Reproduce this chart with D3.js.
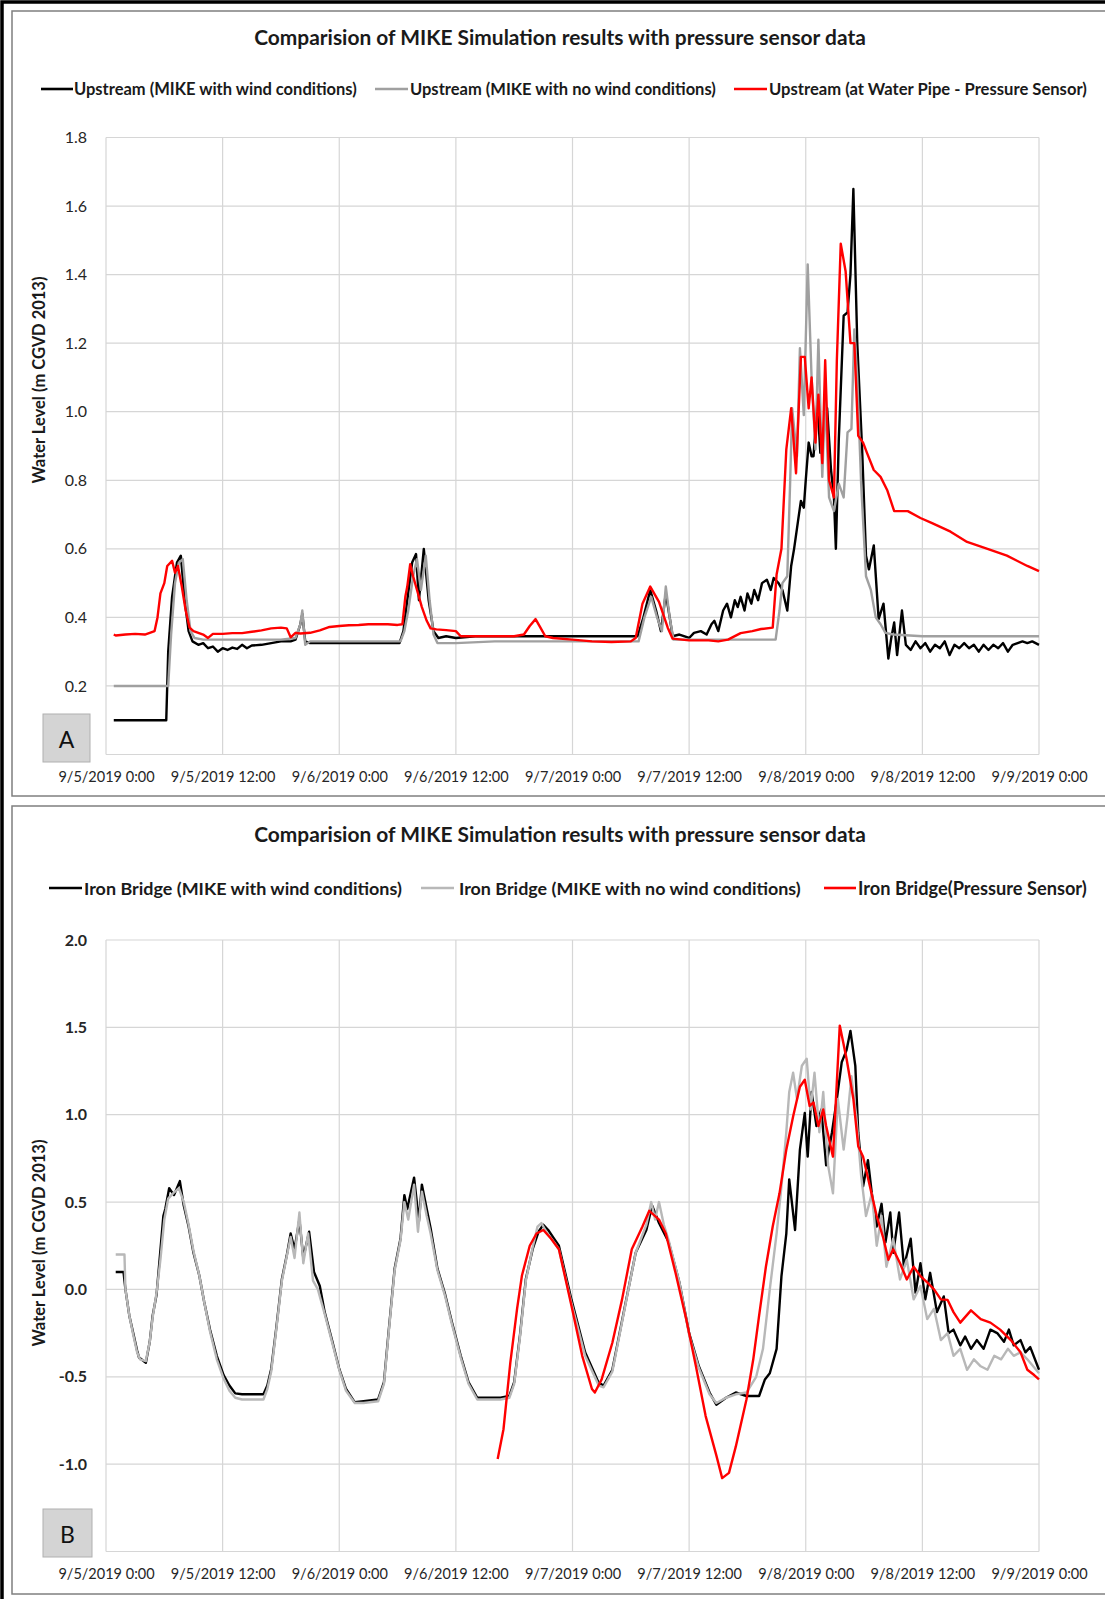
<!DOCTYPE html>
<html>
<head>
<meta charset="utf-8">
<script src="https://cdn.jsdelivr.net/npm/d3@7"></script>
<style>
  html, body { margin: 0; padding: 0; background: #fff; }
  svg { display: block; }
  text { font-family: Lato, "Open Sans", "Liberation Sans", sans-serif; }
</style>
</head>
<body>
<svg id="chart" width="1105" height="1599"></svg>
<script>
// ---------- data: [hour since 9/5/2019 0:00, water level (m CGVD 2013)] ----------
const xTickLabels = ["9/5/2019 0:00", "9/5/2019 12:00", "9/6/2019 0:00", "9/6/2019 12:00",
  "9/7/2019 0:00", "9/7/2019 12:00", "9/8/2019 0:00", "9/8/2019 12:00", "9/9/2019 0:00"];
const xTickHours = [0, 12, 24, 36, 48, 60, 72, 84, 96];

// gridline levels; the lowest level's label sits under the panel tag and is not printed
const upstreamTicks = [0.0, 0.2, 0.4, 0.6, 0.8, 1.0, 1.2, 1.4, 1.6, 1.8];
const upstreamTickLabels = ["0.2", "0.4", "0.6", "0.8", "1.0", "1.2", "1.4", "1.6", "1.8"];
const ironBridgeTicks = [-1.5, -1.0, -0.5, 0.0, 0.5, 1.0, 1.5, 2.0];
const ironBridgeTickLabels = ["-1.0", "-0.5", "0.0", "0.5", "1.0", "1.5", "2.0"];

const upstreamWind = [[0.8,0.10],[6.2,0.10],[6.4,0.30],[6.8,0.46],[7.3,0.56],[7.7,0.58],[8.1,0.45],[8.5,0.36],[8.9,0.33],[9.5,0.32],[10,0.325],[10.5,0.31],[11,0.315],[11.5,0.30],[12,0.31],[12.5,0.305],[13,0.312],[13.5,0.308],[14,0.32],[14.5,0.31],[15,0.318],[16,0.32],[17,0.325],[18,0.33],[19,0.33],[19.5,0.335],[20,0.38],[20.2,0.41],[20.5,0.33],[21,0.325],[24,0.325],[27,0.325],[30.2,0.325],[30.6,0.36],[31,0.45],[31.5,0.56],[31.9,0.585],[32.2,0.45],[32.7,0.60],[33.2,0.45],[33.7,0.36],[34.2,0.34],[35,0.345],[36,0.34],[38,0.345],[40,0.345],[44,0.345],[48,0.345],[52,0.345],[54.7,0.345],[55.3,0.40],[56,0.48],[56.6,0.42],[57.1,0.36],[57.6,0.47],[58,0.40],[58.3,0.345],[59,0.35],[60,0.34],[60.5,0.355],[61.2,0.36],[61.8,0.35],[62.3,0.38],[62.6,0.39],[63,0.36],[63.5,0.42],[63.9,0.44],[64.3,0.40],[64.7,0.45],[65,0.43],[65.3,0.46],[65.7,0.42],[66,0.47],[66.4,0.44],[66.7,0.48],[67.1,0.45],[67.5,0.50],[68,0.51],[68.4,0.48],[68.7,0.515],[69.2,0.50],[69.6,0.48],[70.1,0.42],[70.5,0.55],[70.8,0.60],[71.2,0.68],[71.5,0.74],[71.8,0.72],[72,0.80],[72.3,0.91],[72.6,0.87],[72.8,0.87],[73.2,1.03],[73.5,0.88],[73.7,0.92],[74.2,1.01],[74.6,0.83],[74.9,0.75],[75.1,0.60],[75.4,0.92],[75.9,1.28],[76.3,1.29],[76.6,1.40],[76.9,1.65],[77.3,1.20],[77.8,0.89],[78.2,0.58],[78.5,0.54],[79,0.61],[79.5,0.395],[80,0.44],[80.5,0.28],[80.8,0.34],[81.1,0.385],[81.4,0.29],[81.9,0.42],[82.3,0.32],[82.8,0.305],[83.3,0.33],[83.8,0.31],[84.3,0.325],[84.8,0.30],[85.3,0.32],[85.8,0.31],[86.3,0.33],[86.8,0.29],[87.3,0.32],[87.8,0.31],[88.3,0.325],[88.8,0.31],[89.3,0.32],[89.8,0.30],[90.3,0.32],[90.8,0.305],[91.3,0.32],[91.8,0.31],[92.3,0.325],[92.8,0.30],[93.3,0.32],[93.8,0.325],[94.3,0.33],[94.8,0.325],[95.3,0.33],[96,0.32]];

const upstreamNoWind = [[0.8,0.20],[6.4,0.20],[6.7,0.35],[7.1,0.50],[7.5,0.56],[7.9,0.57],[8.3,0.45],[8.7,0.36],[9.1,0.34],[10,0.335],[12,0.335],[14,0.335],[16,0.335],[18,0.335],[19.5,0.34],[20,0.38],[20.2,0.42],[20.5,0.32],[21,0.33],[25,0.33],[30.3,0.33],[30.7,0.36],[31.1,0.42],[31.6,0.52],[32,0.57],[32.4,0.48],[32.9,0.58],[33.3,0.45],[33.7,0.35],[34.1,0.325],[36,0.325],[40,0.33],[45,0.33],[50,0.33],[54.8,0.33],[55.4,0.40],[56.1,0.46],[56.7,0.40],[57.2,0.36],[57.6,0.49],[58,0.40],[58.4,0.335],[60,0.335],[64,0.335],[68.9,0.335],[69.3,0.42],[69.6,0.50],[70.1,0.52],[70.4,0.80],[70.6,1.01],[71.1,0.87],[71.4,1.185],[71.8,0.99],[72.2,1.43],[72.6,1.10],[73,0.89],[73.3,1.21],[73.7,0.81],[74,1.04],[74.4,0.75],[74.9,0.71],[75.4,0.79],[75.9,0.75],[76.3,0.94],[76.7,0.95],[77,1.24],[77.3,1.10],[77.7,0.79],[78.2,0.52],[78.7,0.48],[79.2,0.40],[79.7,0.38],[80.2,0.355],[81,0.35],[84,0.345],[90,0.345],[96,0.345]];

const upstreamSensor = [[0.8,0.35],[1,0.347],[2,0.35],[3,0.352],[4,0.35],[5,0.36],[5.3,0.40],[5.6,0.47],[6,0.50],[6.3,0.55],[6.8,0.565],[7.1,0.53],[7.4,0.55],[7.8,0.49],[8.2,0.42],[8.6,0.37],[9,0.36],[9.5,0.355],[10,0.35],[10.5,0.34],[11,0.352],[12,0.352],[13,0.354],[14,0.354],[15,0.358],[16,0.362],[17,0.368],[18,0.37],[18.6,0.368],[19,0.342],[19.5,0.355],[20,0.353],[21,0.355],[22,0.362],[23,0.372],[24,0.375],[25,0.377],[26,0.378],[27,0.38],[28,0.38],[29,0.38],[30,0.378],[30.5,0.38],[30.8,0.46],[31,0.49],[31.3,0.555],[31.6,0.52],[32,0.48],[32.5,0.43],[33,0.39],[33.4,0.368],[34,0.365],[35,0.363],[36,0.36],[36.5,0.345],[38,0.345],[40,0.345],[42,0.345],[43,0.35],[43.6,0.375],[44.2,0.395],[44.7,0.37],[45.2,0.345],[46,0.34],[48,0.335],[50,0.33],[52,0.328],[54,0.33],[54.5,0.34],[55.2,0.44],[56,0.49],[56.9,0.445],[57.8,0.37],[58.3,0.338],[60,0.333],[62,0.333],[63,0.33],[64,0.335],[65.3,0.354],[66.5,0.36],[67.4,0.366],[68.6,0.37],[69,0.525],[69.5,0.60],[70,0.89],[70.5,1.01],[71,0.82],[71.5,1.16],[71.9,1.16],[72.3,1.01],[72.6,1.10],[73,0.91],[73.3,1.05],[73.7,0.85],[74,1.15],[74.4,0.80],[74.9,0.75],[75.2,1.15],[75.6,1.49],[76.1,1.41],[76.6,1.20],[77,1.20],[77.4,0.93],[77.9,0.91],[78.3,0.88],[79,0.83],[79.7,0.81],[80.4,0.77],[81.1,0.71],[81.8,0.71],[82.5,0.71],[83.8,0.69],[85,0.675],[86.9,0.65],[88.6,0.62],[90.7,0.60],[92.7,0.58],[94.8,0.55],[96,0.535]];

const ironBridgeWind = [[1.0,0.10],[1.8,0.10],[2.0,0.0],[2.4,-0.15],[2.8,-0.25],[3.2,-0.35],[3.4,-0.39],[4.1,-0.42],[4.5,-0.30],[4.8,-0.15],[5.2,-0.03],[5.5,0.16],[5.9,0.42],[6.1,0.46],[6.5,0.58],[7,0.54],[7.6,0.62],[8,0.48],[8.5,0.36],[9,0.21],[9.6,0.08],[10.1,-0.07],[10.7,-0.23],[11.4,-0.38],[12.1,-0.49],[12.7,-0.55],[13.3,-0.595],[14,-0.60],[15,-0.60],[16.2,-0.60],[16.6,-0.55],[17,-0.455],[17.5,-0.23],[18.1,0.06],[18.6,0.195],[19,0.32],[19.4,0.23],[19.9,0.40],[20.3,0.18],[20.9,0.33],[21.4,0.10],[22,0.02],[22.5,-0.13],[23.3,-0.30],[24,-0.455],[24.7,-0.57],[25.6,-0.646],[26.5,-0.64],[28,-0.63],[28.6,-0.53],[29.1,-0.23],[29.7,0.12],[30.3,0.29],[30.7,0.54],[31,0.46],[31.7,0.64],[32.2,0.39],[32.5,0.60],[33,0.46],[33.4,0.35],[34.1,0.12],[34.9,-0.03],[35.6,-0.19],[36.5,-0.38],[37.3,-0.53],[38.2,-0.62],[39.1,-0.62],[40.6,-0.62],[41.5,-0.61],[42,-0.53],[42.6,-0.26],[43.2,0.06],[43.9,0.23],[44.5,0.33],[45,0.37],[45.5,0.34],[46.1,0.29],[46.6,0.25],[47.9,-0.06],[49.3,-0.36],[50.7,-0.535],[51.2,-0.55],[52.1,-0.46],[53.4,-0.095],[54.5,0.21],[55.6,0.34],[56.2,0.48],[56.9,0.38],[57.9,0.27],[59,0.04],[60,-0.25],[61,-0.44],[62.1,-0.59],[62.8,-0.66],[63.8,-0.62],[64.8,-0.59],[65.9,-0.61],[67.2,-0.61],[67.8,-0.515],[68.3,-0.48],[69,-0.34],[69.5,0.076],[70,0.32],[70.3,0.63],[70.9,0.34],[71.4,0.80],[71.9,1.01],[72.2,0.76],[72.6,1.13],[73.1,0.935],[73.6,1.03],[74.1,0.71],[74.7,0.90],[75.2,1.09],[75.7,1.30],[76.2,1.37],[76.6,1.48],[77.1,1.28],[77.4,0.90],[77.9,0.59],[78.4,0.74],[78.8,0.55],[79.3,0.36],[79.8,0.49],[80.2,0.27],[80.7,0.44],[81,0.21],[81.6,0.44],[82.1,0.13],[82.8,0.29],[83.3,-0.02],[83.8,0.15],[84.3,-0.057],[84.8,0.095],[85.5,-0.13],[86.2,-0.04],[86.7,-0.25],[87.2,-0.23],[87.9,-0.32],[88.4,-0.27],[89,-0.34],[89.6,-0.29],[90.3,-0.34],[91,-0.23],[91.7,-0.25],[92.4,-0.30],[92.9,-0.23],[93.4,-0.32],[94.1,-0.29],[94.6,-0.36],[95.1,-0.33],[96,-0.46]];

const ironBridgeNoWind = [[1.0,0.20],[1.9,0.20],[2.0,0.0],[2.4,-0.15],[2.8,-0.26],[3.2,-0.36],[3.5,-0.40],[4.1,-0.41],[4.5,-0.30],[4.8,-0.16],[5.2,-0.02],[5.6,0.17],[6,0.40],[6.4,0.52],[6.9,0.55],[7.5,0.58],[8,0.50],[8.5,0.37],[9,0.22],[9.6,0.08],[10.1,-0.07],[10.7,-0.24],[11.4,-0.40],[12.1,-0.51],[12.7,-0.58],[13.3,-0.62],[14,-0.63],[15,-0.63],[16.2,-0.63],[16.6,-0.57],[17,-0.47],[17.5,-0.24],[18.1,0.05],[18.6,0.19],[19,0.30],[19.4,0.18],[19.9,0.44],[20.3,0.15],[20.8,0.32],[21.3,0.05],[21.8,0.0],[22.5,-0.14],[23.3,-0.31],[24,-0.46],[24.7,-0.58],[25.6,-0.65],[26.5,-0.65],[28,-0.64],[28.6,-0.54],[29.1,-0.24],[29.7,0.11],[30.3,0.28],[30.7,0.50],[31.1,0.40],[31.7,0.60],[32.1,0.33],[32.5,0.56],[33,0.42],[33.4,0.32],[34.1,0.11],[34.9,-0.04],[35.6,-0.20],[36.5,-0.39],[37.3,-0.54],[38.2,-0.63],[39.1,-0.63],[40.6,-0.63],[41.5,-0.62],[42,-0.54],[42.6,-0.27],[43.2,0.05],[43.9,0.24],[44.4,0.36],[44.8,0.38],[45.3,0.33],[46.1,0.27],[46.6,0.23],[47.9,-0.08],[49.3,-0.38],[50.7,-0.55],[51.2,-0.56],[52.1,-0.47],[53.4,-0.10],[54.5,0.21],[55.6,0.37],[56.1,0.50],[56.5,0.40],[56.9,0.50],[57.4,0.37],[57.9,0.28],[59,0.04],[60,-0.26],[61,-0.45],[62.1,-0.60],[62.8,-0.65],[63.8,-0.62],[64.8,-0.60],[65.9,-0.59],[66.9,-0.50],[67.6,-0.34],[68.3,0.0],[69,0.32],[69.5,0.59],[70,0.90],[70.3,1.13],[70.7,1.24],[71.1,1.09],[71.6,1.28],[72.1,1.32],[72.5,1.03],[72.9,1.24],[73.4,0.90],[73.8,1.13],[74.3,0.71],[74.8,0.55],[75.3,1.09],[75.9,0.80],[76.3,0.99],[76.7,1.22],[77.2,0.99],[77.7,0.65],[78.2,0.42],[78.8,0.55],[79.3,0.25],[79.8,0.42],[80.3,0.13],[81,0.29],[81.7,0.057],[82.4,0.17],[83.1,-0.057],[83.8,0.02],[84.5,-0.17],[85.2,-0.11],[85.9,-0.29],[86.6,-0.25],[87.2,-0.38],[87.9,-0.34],[88.6,-0.46],[89.3,-0.40],[90,-0.44],[90.7,-0.46],[91.4,-0.38],[92.1,-0.40],[92.8,-0.34],[93.4,-0.38],[94.1,-0.36],[94.8,-0.40],[96,-0.48]];

const ironBridgeSensor = [[40.3,-0.97],[40.9,-0.80],[41.6,-0.42],[42.3,-0.11],[42.8,0.08],[43.6,0.25],[44.3,0.32],[45,0.34],[45.8,0.29],[46.6,0.23],[47.9,-0.095],[49,-0.38],[50,-0.57],[50.3,-0.59],[51,-0.515],[52.1,-0.305],[53.1,-0.057],[54.1,0.23],[55.2,0.36],[55.9,0.45],[56.9,0.40],[57.6,0.32],[58.6,0.095],[59.7,-0.17],[60.7,-0.44],[61.7,-0.725],[62.8,-0.95],[63.4,-1.08],[64.1,-1.05],[64.8,-0.90],[65.9,-0.63],[66.6,-0.40],[67.2,-0.15],[67.9,0.13],[68.6,0.36],[69.3,0.55],[70,0.80],[70.7,0.99],[71.4,1.16],[71.9,1.20],[72.4,1.05],[72.8,1.07],[73.3,0.935],[73.8,1.03],[74.1,0.935],[74.8,0.76],[75.5,1.51],[76.2,1.32],[76.9,1.09],[77.4,0.82],[77.9,0.76],[78.6,0.59],[79.3,0.42],[80,0.29],[80.5,0.17],[81,0.23],[81.7,0.15],[82.4,0.057],[83.1,0.13],[83.8,0.076],[84.5,0.04],[85.2,0.0],[85.9,-0.057],[86.6,-0.06],[87.2,-0.13],[87.9,-0.19],[89,-0.12],[90,-0.17],[91,-0.19],[92,-0.23],[93.1,-0.29],[94.1,-0.36],[94.8,-0.46],[95.5,-0.49],[96,-0.515]];

const chartTitle = "Comparision of MIKE Simulation results with pressure sensor data";
const yTitle = "Water Level (m CGVD 2013)";

// ---------- drawing ----------
const svg = d3.select("#chart");
const FONT = "Lato, 'Open Sans', 'Liberation Sans', sans-serif";

// shrink/grow a text's font-size so it spans a given width
function fitWidth(sel, target) {
  const node = sel.node();
  const w = node.getComputedTextLength();
  const fs = parseFloat(sel.attr("font-size"));
  if (w > 0) sel.attr("font-size", (fs * target / w).toFixed(2));
}

const panels = [
  {
    box: {x: 12, y: 11, w: 1100, h: 785},
    title: {x: 560, y: 36, width: 612},
    legendY: 89,
    legend: [
      {name: "Upstream (MIKE with wind conditions)", color: "#000", x0: 41, x1: 73, tx: 74, tw: 283},
      {name: "Upstream (MIKE with no wind conditions)", color: "#a0a0a0", x0: 375, x1: 408, tx: 410, tw: 306},
      {name: "Upstream (at Water Pipe - Pressure Sensor)", color: "#ff0000", x0: 734, x1: 767, tx: 769, tw: 318}
    ],
    series: [
      {data: upstreamWind, color: "#000"},
      {data: upstreamNoWind, color: "#a0a0a0"},
      {data: upstreamSensor, color: "#ff0000"}
    ],
    yDomain: [0, 1.8], yTicks: upstreamTicks, yLabels: upstreamTickLabels, yBold: false,
    plot: {x0: 106, x1: 1039, y0: 137.5, y1: 754.5},
    xLabelY: 782,
    yTitleY: 380,
    tag: {label: "A", x: 43, y: 714, w: 47, h: 48}
  },
  {
    box: {x: 12, y: 806, w: 1100, h: 788},
    title: {x: 560, y: 833, width: 612},
    legendY: 888,
    legend: [
      {name: "Iron Bridge (MIKE with wind conditions)", color: "#000", x0: 49, x1: 82, tx: 84, tw: 318},
      {name: "Iron Bridge (MIKE with no wind conditions)", color: "#b8b8b8", x0: 421, x1: 454, tx: 459, tw: 342},
      {name: "Iron Bridge(Pressure Sensor)", color: "#ff0000", x0: 824, x1: 856, tx: 858, tw: 229}
    ],
    series: [
      {data: ironBridgeWind, color: "#000"},
      {data: ironBridgeNoWind, color: "#b8b8b8"},
      {data: ironBridgeSensor, color: "#ff0000"}
    ],
    yDomain: [-1.5, 2.0], yTicks: ironBridgeTicks, yLabels: ironBridgeTickLabels, yBold: true,
    plot: {x0: 106, x1: 1039, y0: 940, y1: 1551.5},
    xLabelY: 1579,
    yTitleY: 1243,
    tag: {label: "B", x: 43, y: 1509, w: 49, h: 48}
  }
];

panels.forEach(p => {
  const g = svg.append("g");

  // panel frame
  g.append("rect")
    .attr("x", p.box.x).attr("y", p.box.y).attr("width", p.box.w).attr("height", p.box.h)
    .attr("fill", "#fff").attr("stroke", "#7f7f7f").attr("stroke-width", 1.5);

  const x = d3.scaleLinear().domain([0, 96]).range([p.plot.x0, p.plot.x1]);
  const y = d3.scaleLinear().domain(p.yDomain).range([p.plot.y1, p.plot.y0]);

  // gridlines
  const grid = g.append("g");
  grid.selectAll("line.h").data(p.yTicks).join("line")
    .attr("x1", p.plot.x0).attr("x2", p.plot.x1)
    .attr("y1", d => y(d)).attr("y2", d => y(d))
    .attr("stroke", "#d6d6d6").attr("stroke-width", 1.2);
  grid.selectAll("line.v").data(xTickHours).join("line")
    .attr("x1", d => x(d)).attr("x2", d => x(d))
    .attr("y1", p.plot.y0).attr("y2", p.plot.y1)
    .attr("stroke", "#d6d6d6").attr("stroke-width", 1.2);

  // y axis labels (printed levels only)
  const yAxis = d3.axisLeft(y).tickValues(p.yLabels.map(Number))
    .tickFormat((d, i) => p.yLabels[i]).tickSize(0).tickPadding(0);
  const ya = g.append("g").attr("transform", `translate(${p.plot.x0 - 19},0)`).call(yAxis);
  ya.select(".domain").remove();
  ya.selectAll("text")
    .attr("font-family", FONT).attr("font-size", 16)
    .attr("font-weight", p.yBold ? 700 : 400)
    .attr("fill", "#262626");

  // x axis labels
  const xAxis = d3.axisBottom(x).tickValues(xTickHours)
    .tickFormat((d, i) => xTickLabels[i]).tickSize(0).tickPadding(0);
  const xa = g.append("g").attr("transform", `translate(0,${p.xLabelY - 10})`).call(xAxis);
  xa.select(".domain").remove();
  xa.selectAll("text")
    .attr("font-family", FONT).attr("font-size", 14.5)
    .attr("fill", "#262626");

  // series
  const line = d3.line().x(d => x(d[0])).y(d => y(d[1]));
  g.append("g").selectAll("path").data(p.series).join("path")
    .attr("d", d => line(d.data))
    .attr("fill", "none")
    .attr("stroke", d => d.color)
    .attr("stroke-width", 2.4)
    .attr("stroke-linejoin", "round");

  // title
  const t = g.append("text")
    .attr("x", p.title.x).attr("y", p.title.y)
    .attr("text-anchor", "middle").attr("dominant-baseline", "central")
    .attr("font-family", FONT).attr("font-weight", 700).attr("font-size", 17)
    .attr("fill", "#1a1a1a").text(chartTitle);
  fitWidth(t, p.title.width);

  // legend
  p.legend.forEach(l => {
    g.append("line")
      .attr("x1", l.x0).attr("x2", l.x1).attr("y1", p.legendY).attr("y2", p.legendY)
      .attr("stroke", l.color).attr("stroke-width", 2.6);
    const lt = g.append("text")
      .attr("x", l.tx).attr("y", p.legendY)
      .attr("dominant-baseline", "central")
      .attr("font-family", FONT).attr("font-weight", 700).attr("font-size", 14)
      .attr("fill", "#1a1a1a").text(l.name);
    fitWidth(lt, l.tw);
  });

  // y axis title
  g.append("text")
    .attr("transform", `translate(39,${p.yTitleY}) rotate(-90)`)
    .attr("text-anchor", "middle").attr("dominant-baseline", "central")
    .attr("font-family", FONT).attr("font-weight", 700).attr("font-size", 16.5)
    .attr("fill", "#1a1a1a").text(yTitle);

  // panel tag
  g.append("rect")
    .attr("x", p.tag.x).attr("y", p.tag.y).attr("width", p.tag.w).attr("height", p.tag.h)
    .attr("fill", "#d4d4d4").attr("stroke", "#b0b0b0").attr("stroke-width", 1);
  g.append("text")
    .attr("x", p.tag.x + p.tag.w / 2).attr("y", p.tag.y + p.tag.h / 2 + 1)
    .attr("text-anchor", "middle").attr("dominant-baseline", "central")
    .attr("font-family", FONT).attr("font-size", 23).attr("fill", "#111")
    .text(p.tag.label);
});

// outer frame (top and left edges visible)
svg.append("path")
  .attr("d", "M2,1599 L2,2 L1105,2")
  .attr("fill", "none").attr("stroke", "#000").attr("stroke-width", 3.5);
</script>
</body>
</html>
